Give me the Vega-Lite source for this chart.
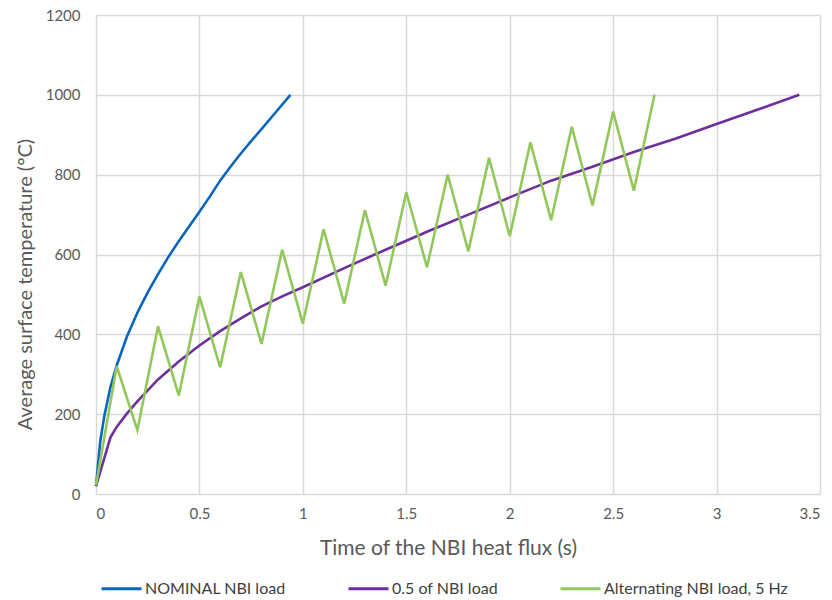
{
  "$schema": "https://vega.github.io/schema/vega-lite/v6.json",
  "width": 724,
  "height": 479,
  "autosize": "none",
  "padding": {"left": 96, "top": 15, "right": 12, "bottom": 106},
  "background": "white",
  "config": {
    "font": "Lato",
    "view": {"stroke": null},
    "axis": {"gridColor": "#D9D9D9", "gridWidth": 1.5, "domain": false, "ticks": false, "labelColor": "#595959", "titleColor": "#595959", "labelFontSize": 15, "titleFontSize": 20, "titleFontWeight": "normal", "labelFont": "Lato", "titleFont": "Lato"}
  },
  "data": {
    "values": [
      {"series": "NOMINAL NBI load", "time": 0, "temp": 20},
      {"series": "NOMINAL NBI load", "time": 0.02, "temp": 130},
      {"series": "NOMINAL NBI load", "time": 0.04, "temp": 195},
      {"series": "NOMINAL NBI load", "time": 0.07, "temp": 268},
      {"series": "NOMINAL NBI load", "time": 0.1, "temp": 322},
      {"series": "NOMINAL NBI load", "time": 0.15, "temp": 395},
      {"series": "NOMINAL NBI load", "time": 0.2, "temp": 454},
      {"series": "NOMINAL NBI load", "time": 0.25, "temp": 505},
      {"series": "NOMINAL NBI load", "time": 0.3, "temp": 551},
      {"series": "NOMINAL NBI load", "time": 0.35, "temp": 594},
      {"series": "NOMINAL NBI load", "time": 0.4, "temp": 633},
      {"series": "NOMINAL NBI load", "time": 0.45, "temp": 670},
      {"series": "NOMINAL NBI load", "time": 0.5, "temp": 707},
      {"series": "NOMINAL NBI load", "time": 0.55, "temp": 745},
      {"series": "NOMINAL NBI load", "time": 0.6, "temp": 785},
      {"series": "NOMINAL NBI load", "time": 0.65, "temp": 820},
      {"series": "NOMINAL NBI load", "time": 0.7, "temp": 853},
      {"series": "NOMINAL NBI load", "time": 0.75, "temp": 884},
      {"series": "NOMINAL NBI load", "time": 0.8, "temp": 914},
      {"series": "NOMINAL NBI load", "time": 0.87, "temp": 957},
      {"series": "NOMINAL NBI load", "time": 0.94, "temp": 1000},
      {"series": "0.5 of NBI load", "time": 0, "temp": 20},
      {"series": "0.5 of NBI load", "time": 0.07, "temp": 142},
      {"series": "0.5 of NBI load", "time": 0.1, "temp": 168},
      {"series": "0.5 of NBI load", "time": 0.15, "temp": 202},
      {"series": "0.5 of NBI load", "time": 0.2, "temp": 232},
      {"series": "0.5 of NBI load", "time": 0.3, "temp": 287},
      {"series": "0.5 of NBI load", "time": 0.4, "temp": 332},
      {"series": "0.5 of NBI load", "time": 0.5, "temp": 372},
      {"series": "0.5 of NBI load", "time": 0.6, "temp": 408},
      {"series": "0.5 of NBI load", "time": 0.7, "temp": 440},
      {"series": "0.5 of NBI load", "time": 0.8, "temp": 470},
      {"series": "0.5 of NBI load", "time": 0.9, "temp": 495},
      {"series": "0.5 of NBI load", "time": 1.0, "temp": 518},
      {"series": "0.5 of NBI load", "time": 1.2, "temp": 566},
      {"series": "0.5 of NBI load", "time": 1.4, "temp": 612},
      {"series": "0.5 of NBI load", "time": 1.6, "temp": 657},
      {"series": "0.5 of NBI load", "time": 1.8, "temp": 700},
      {"series": "0.5 of NBI load", "time": 2.0, "temp": 743},
      {"series": "0.5 of NBI load", "time": 2.2, "temp": 785},
      {"series": "0.5 of NBI load", "time": 2.4, "temp": 820},
      {"series": "0.5 of NBI load", "time": 2.6, "temp": 857},
      {"series": "0.5 of NBI load", "time": 2.8, "temp": 890},
      {"series": "0.5 of NBI load", "time": 3.0, "temp": 927},
      {"series": "0.5 of NBI load", "time": 3.2, "temp": 963},
      {"series": "0.5 of NBI load", "time": 3.4, "temp": 1000},
      {"series": "Alternating NBI load,  5 Hz", "time": 0, "temp": 22},
      {"series": "Alternating NBI load,  5 Hz", "time": 0.1, "temp": 320},
      {"series": "Alternating NBI load,  5 Hz", "time": 0.2, "temp": 160},
      {"series": "Alternating NBI load,  5 Hz", "time": 0.3, "temp": 420},
      {"series": "Alternating NBI load,  5 Hz", "time": 0.4, "temp": 247},
      {"series": "Alternating NBI load,  5 Hz", "time": 0.5, "temp": 495},
      {"series": "Alternating NBI load,  5 Hz", "time": 0.6, "temp": 317},
      {"series": "Alternating NBI load,  5 Hz", "time": 0.7, "temp": 556},
      {"series": "Alternating NBI load,  5 Hz", "time": 0.8, "temp": 376},
      {"series": "Alternating NBI load,  5 Hz", "time": 0.9, "temp": 612},
      {"series": "Alternating NBI load,  5 Hz", "time": 1.0, "temp": 427},
      {"series": "Alternating NBI load,  5 Hz", "time": 1.1, "temp": 663},
      {"series": "Alternating NBI load,  5 Hz", "time": 1.2, "temp": 477},
      {"series": "Alternating NBI load,  5 Hz", "time": 1.3, "temp": 711},
      {"series": "Alternating NBI load,  5 Hz", "time": 1.4, "temp": 522},
      {"series": "Alternating NBI load,  5 Hz", "time": 1.5, "temp": 756},
      {"series": "Alternating NBI load,  5 Hz", "time": 1.6, "temp": 568},
      {"series": "Alternating NBI load,  5 Hz", "time": 1.7, "temp": 800},
      {"series": "Alternating NBI load,  5 Hz", "time": 1.8, "temp": 608},
      {"series": "Alternating NBI load,  5 Hz", "time": 1.9, "temp": 842},
      {"series": "Alternating NBI load,  5 Hz", "time": 2.0, "temp": 646},
      {"series": "Alternating NBI load,  5 Hz", "time": 2.1, "temp": 881},
      {"series": "Alternating NBI load,  5 Hz", "time": 2.2, "temp": 686},
      {"series": "Alternating NBI load,  5 Hz", "time": 2.3, "temp": 920},
      {"series": "Alternating NBI load,  5 Hz", "time": 2.4, "temp": 723},
      {"series": "Alternating NBI load,  5 Hz", "time": 2.5, "temp": 958},
      {"series": "Alternating NBI load,  5 Hz", "time": 2.6, "temp": 760},
      {"series": "Alternating NBI load,  5 Hz", "time": 2.7, "temp": 1000}
    ]
  },
  "mark": {"type": "line", "strokeWidth": 2.6},
  "encoding": {
    "x": {
      "field": "time", "type": "quantitative",
      "scale": {"domain": [0, 3.5], "nice": false},
      "axis": {"values": [0, 0.5, 1, 1.5, 2, 2.5, 3, 3.5], "format": "~g", "labelPadding": 12, "title": "Time of the NBI heat flux (s)", "titlePadding": 16, "titleX": 352, "titleFontSize": 21}
    },
    "y": {
      "field": "temp", "type": "quantitative",
      "scale": {"domain": [0, 1200], "nice": false},
      "axis": {"values": [0, 200, 400, 600, 800, 1000, 1200], "format": "d", "labelPadding": 16, "title": "Average surface temperature (°C)", "titlePadding": 10, "titleY": 269}
    },
    "color": {
      "field": "series", "type": "nominal",
      "scale": {
        "domain": ["NOMINAL NBI load", "0.5 of NBI load", "Alternating NBI load,  5 Hz"],
        "range": ["#0A65BF", "#6E2F9E", "#93C75B"]
      },
      "legend": {
        "title": null, "orient": "none", "direction": "horizontal",
        "legendX": 4, "legendY": 552,
        "symbolType": "stroke", "symbolSize": 1600, "symbolStrokeWidth": 3,
        "labelFontSize": 16, "labelColor": "#404040", "labelFont": "Lato",
        "labelOffset": 2, "columnPadding": 56, "labelLimit": 400
      }
    },
    "order": {"field": "time", "type": "quantitative"}
  }
}
